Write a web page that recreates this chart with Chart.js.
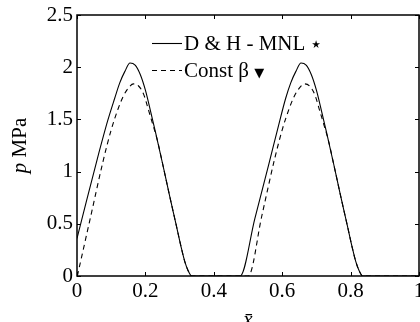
<!DOCTYPE html>
<html>
<head>
<meta charset="utf-8">
<script src="https://cdn.jsdelivr.net/npm/chart.js@4.4.1/dist/chart.umd.min.js"></script>
<style>
  html, body { margin: 0; padding: 0; background: #fff; overflow: hidden; }
  canvas { display: block; }
</style>
</head>
<body>
<canvas id="pressureChart" width="420" height="322"></canvas>
<script>
// x positions (x bar) and pressure p [MPa]
var xDH = [0, 0.02, 0.06, 0.09, 0.11, 0.125, 0.14, 0.155, 0.17, 0.185, 0.20, 0.215, 0.23, 0.25, 0.27, 0.29, 0.305, 0.315, 0.325, 0.335, 0.40,
           0.477, 0.52, 0.56, 0.59, 0.61, 0.625, 0.64, 0.655, 0.67, 0.685, 0.70, 0.715, 0.73, 0.75, 0.77, 0.79, 0.805, 0.815, 0.825, 0.835, 0.90, 1.0];
var pDH = [0.36, 0.62, 1.13, 1.49, 1.70, 1.85, 1.96, 2.04, 2.02, 1.93, 1.78, 1.58, 1.37, 1.08, 0.78, 0.49, 0.27, 0.14, 0.05, 0, 0,
           0, 0.55, 1.06, 1.45, 1.70, 1.85, 1.96, 2.04, 2.02, 1.93, 1.78, 1.58, 1.37, 1.08, 0.78, 0.49, 0.27, 0.14, 0.05, 0, 0, 0];

var xConst = [0.001, 0.04, 0.077, 0.10, 0.12, 0.135, 0.15, 0.165, 0.18, 0.195, 0.21, 0.22, 0.235, 0.25, 0.27, 0.29, 0.305, 0.315, 0.325, 0.335, 0.42,
              0.501, 0.54, 0.577, 0.60, 0.62, 0.635, 0.65, 0.665, 0.68, 0.695, 0.71, 0.72, 0.735, 0.75, 0.77, 0.79, 0.805, 0.815, 0.825, 0.835, 0.92, 1.0];
var pConst = [0, 0.57, 1.11, 1.40, 1.60, 1.72, 1.80, 1.84, 1.82, 1.74, 1.58, 1.47, 1.30, 1.08, 0.78, 0.49, 0.27, 0.14, 0.05, 0, 0,
              0, 0.57, 1.11, 1.40, 1.60, 1.72, 1.80, 1.84, 1.82, 1.74, 1.58, 1.47, 1.30, 1.08, 0.78, 0.49, 0.27, 0.14, 0.05, 0, 0, 0];

var xTicks = [0, 0.2, 0.4, 0.6, 0.8, 1];
var yTicks = [0, 0.5, 1, 1.5, 2, 2.5];
var legendNames = ["D & H - MNL", "Const \u03b2"];
var legendSymbols = ["\u22c6", "\u25bc"];
var yTitle = ["p", " MPa"];
var xTitle = "x\u0304";

var serif = "'Liberation Serif', 'Times New Roman', serif";

function toPoints(xs, ys){
    var pts = [];
    for(var i=0; i<xs.length; i+=1){
        pts.push({x: xs[i], y: ys[i]});
    }
    return pts;
}

// box, inward ticks, titles and legend in MATLAB style
var matlabFrame = {
    id: 'matlabFrame',
    afterDatasetsDraw: function(chart){
        var ctx = chart.ctx;
        var a = chart.chartArea;
        var xs = chart.scales.x, ys = chart.scales.y;
        ctx.save();
        ctx.strokeStyle = '#000';
        ctx.lineWidth = 1;
        ctx.beginPath();
        for(var i=0; i<xTicks.length; i+=1){
            var px = Math.round(xs.getPixelForValue(xTicks[i])) + 0.5;
            ctx.moveTo(px, a.bottom); ctx.lineTo(px, a.bottom - 4);
            ctx.moveTo(px, a.top); ctx.lineTo(px, a.top + 4);
        }
        for(var j=0; j<yTicks.length; j+=1){
            var py = Math.round(ys.getPixelForValue(yTicks[j])) + 0.5;
            ctx.moveTo(a.left, py); ctx.lineTo(a.left + 4, py);
            ctx.moveTo(a.right, py); ctx.lineTo(a.right - 4, py);
        }
        ctx.stroke();
        ctx.lineWidth = 1.5;
        ctx.strokeRect(a.left, a.top, a.right - a.left, a.bottom - a.top);

        // legend
        var rows = [43, 70];
        ctx.lineWidth = 1.1;
        for(var k=0; k<2; k+=1){
            ctx.setLineDash(k === 0 ? [] : [5, 4]);
            ctx.beginPath();
            ctx.moveTo(152, rows[k] + 0.5); ctx.lineTo(182, rows[k] + 0.5);
            ctx.stroke();
        }
        ctx.setLineDash([]);
        ctx.fillStyle = '#000';
        ctx.textBaseline = 'alphabetic';
        ctx.textAlign = 'left';
        ctx.font = '21px ' + serif;
        var w0 = ctx.measureText(legendNames[0] + " ").width;
        ctx.fillText(legendNames[0] + " ", 184, rows[0] + 7);
        var w1 = ctx.measureText(legendNames[1] + " ").width;
        ctx.fillText(legendNames[1] + " ", 184, rows[1] + 7);
        ctx.font = '21px "DejaVu Sans"';
        ctx.fillText(legendSymbols[0], 183 + w0, rows[0] + 8);
        ctx.font = '13px "DejaVu Sans"';
        ctx.fillText(legendSymbols[1], 184 + w1, rows[1] + 7);

        // axis titles
        ctx.font = 'italic 21px ' + serif;
        ctx.textAlign = 'center';
        ctx.fillText(xTitle, (a.left + a.right) / 2, 326);
        ctx.translate(26, (a.top + a.bottom) / 2);
        ctx.rotate(-Math.PI / 2);
        ctx.font = 'italic 21px ' + serif;
        var wp = ctx.measureText(yTitle[0]).width;
        ctx.font = '21px ' + serif;
        var wm = ctx.measureText(yTitle[1]).width;
        ctx.textAlign = 'left';
        ctx.font = 'italic 21px ' + serif;
        ctx.fillText(yTitle[0], -(wp + wm) / 2, 0);
        ctx.font = '21px ' + serif;
        ctx.fillText(yTitle[1], -(wp + wm) / 2 + wp, 0);
        ctx.restore();
    }
};

var canvas = document.getElementById('pressureChart');
var myLineChart = new Chart(canvas, {
    type: 'line',
    data: {
        datasets: [{
            label: legendNames[0],
            data: toPoints(xDH, pDH),
            borderColor: '#000',
            borderWidth: 1.1,
            pointRadius: 0,
            fill: false,
            cubicInterpolationMode: 'monotone'
        }, {
            label: legendNames[1],
            data: toPoints(xConst, pConst),
            borderColor: '#000',
            borderWidth: 1.1,
            borderDash: [5, 4],
            pointRadius: 0,
            fill: false,
            cubicInterpolationMode: 'monotone'
        }]
    },
    options: {
        responsive: false,
        animation: false,
        layout: { padding: { top: 15, right: 1, left: 0, bottom: 0 } },
        plugins: { legend: { display: false }, tooltip: { enabled: false } },
        scales: {
            x: {
                type: 'linear', min: 0, max: 1,
                grid: { display: false, drawTicks: false },
                border: { display: false },
                afterBuildTicks: function(scale){ scale.ticks = xTicks.map(function(v){ return {value: v}; }); },
                ticks: { color: '#000', padding: 3, font: { family: serif, size: 21 }, maxRotation: 0,
                         callback: function(v){ return String(v); } },
                afterFit: function(scale){ scale.height = 46; scale.paddingLeft = 0; scale.paddingRight = 0; }
            },
            y: {
                min: 0, max: 2.5,
                grid: { display: false, drawTicks: false },
                border: { display: false },
                afterBuildTicks: function(scale){ scale.ticks = yTicks.map(function(v){ return {value: v}; }); },
                ticks: { color: '#000', padding: 4, font: { family: serif, size: 21 },
                         callback: function(v){ return String(v); } },
                afterFit: function(scale){ scale.width = 77; scale.paddingTop = 0; scale.paddingBottom = 0; }
            }
        }
    },
    plugins: [matlabFrame]
});
</script>
</body>
</html>
